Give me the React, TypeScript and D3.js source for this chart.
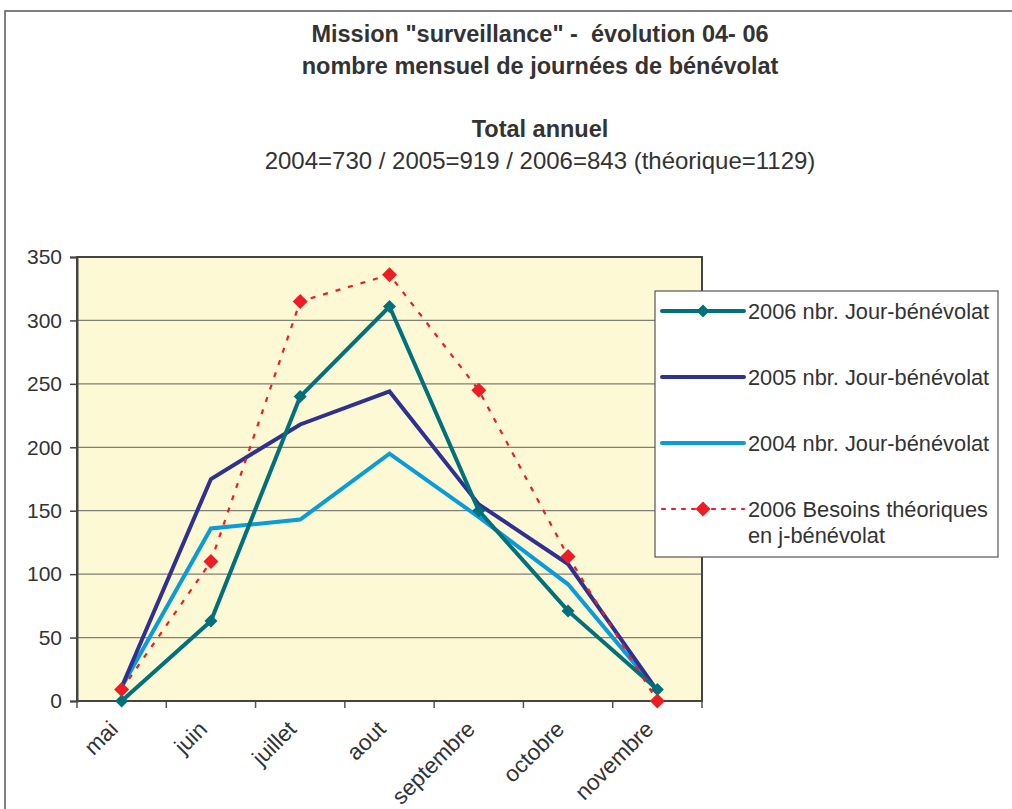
import { useEffect, useRef } from 'react';
import * as d3 from 'd3';

const months = ['mai', 'juin', 'juillet', 'aout', 'septembre', 'octobre', 'novembre'];
const serie2006 = [0, 63, 240, 311, 150, 71, 9];
const serie2005 = [11, 175, 218, 244, 155, 108, 8];
const serie2004 = [11, 136, 143, 195, 145, 92, 8];
const besoins2006 = [9, 110, 315, 336, 245, 114, 0];
const yTicks = [0, 50, 100, 150, 200, 250, 300, 350];

const W = 1012, H = 809;
const L = 77, R = 702, T = 257, B = 701;
const FONT = '"Liberation Sans", Arial, sans-serif';

const series = [
  { name: '2006 nbr. Jour-bénévolat', values: serie2006, color: '#00707A', marker: 6.5, dash: null },
  { name: '2005 nbr. Jour-bénévolat', values: serie2005, color: '#2E3192', marker: 0, dash: null },
  { name: '2004 nbr. Jour-bénévolat', values: serie2004, color: '#0A9BDA', marker: 0, dash: null },
  { name: '2006 Besoins théoriques|en j-bénévolat', values: besoins2006, color: '#EE1C25', marker: 7.5, dash: '5,8' },
];

function diamond(r: number) {
  return `M0,${-r}L${r},0L0,${r}L${-r},0Z`;
}

export default function App() {
  const ref = useRef<SVGSVGElement>(null);

  useEffect(() => {
    const svg = d3.select(ref.current);
    svg.selectAll('*').remove();

    // outer frame
    svg.append('path').attr('d', `M5,${H}V11H${W}`).attr('fill', 'none').attr('stroke', '#555').attr('stroke-width', 1.5);

    // titles
    const titles = [
      { t: 'Mission "surveillance" -  évolution 04- 06', y: 42, b: true },
      { t: 'nombre mensuel de journées de bénévolat', y: 74, b: true },
      { t: 'Total annuel', y: 137, b: true },
      { t: '2004=730 / 2005=919 / 2006=843 (théorique=1129)', y: 169, b: false },
    ];
    titles.forEach((d) => {
      svg.append('text')
        .attr('x', 540).attr('y', d.y)
        .attr('text-anchor', 'middle')
        .attr('font-family', FONT)
        .attr('font-size', d.b ? 23.5 : 24)
        .attr('font-weight', d.b ? 'bold' : 'normal')
        .attr('fill', '#333')
        .attr('style', 'white-space: pre')
        .text(d.t);
    });

    const x = d3.scaleBand().domain(months).range([L, R]);
    const y = d3.scaleLinear().domain([0, 350]).range([B, T]);

    // plot area
    svg.append('rect').attr('x', L).attr('y', T).attr('width', R - L).attr('height', B - T).attr('fill', '#FEF9D5');

    // gridlines
    svg.append('g').selectAll('line').data(yTicks.slice(1, -1)).join('line')
      .attr('x1', L).attr('x2', R).attr('y1', (d) => y(d)).attr('y2', (d) => y(d))
      .attr('stroke', '#7f7f75').attr('stroke-width', 1.2);

    // border
    svg.append('rect').attr('x', L).attr('y', T).attr('width', R - L).attr('height', B - T)
      .attr('fill', 'none').attr('stroke', '#444').attr('stroke-width', 2);

    // y axis
    const yAxis = svg.append('g').attr('transform', `translate(${L},0)`)
      .call(d3.axisLeft(y).tickValues(yTicks).tickSize(7).tickPadding(8));
    yAxis.select('.domain').attr('stroke', '#444').attr('stroke-width', 2);
    yAxis.selectAll('.tick line').attr('stroke', '#444').attr('stroke-width', 1.5);
    yAxis.selectAll('text').attr('font-family', FONT).attr('font-size', 21).attr('fill', '#333');

    // x axis
    const xg = svg.append('g').attr('transform', `translate(0,${B})`);
    const edges = months.map((m) => x(m)!).concat([R]);
    xg.selectAll('line').data(edges).join('line')
      .attr('x1', (d) => d).attr('x2', (d) => d).attr('y1', 0).attr('y2', 7)
      .attr('stroke', '#555').attr('stroke-width', 1.5);
    xg.append('line').attr('x1', L).attr('x2', R).attr('stroke', '#444').attr('stroke-width', 2);
    xg.selectAll('text').data(months).join('text')
      .attr('transform', (d) => `translate(${x(d)! + x.bandwidth() / 2 - 8},${24}) rotate(-45)`)
      .attr('text-anchor', 'end')
      .attr('dy', '0.35em')
      .attr('font-family', FONT).attr('font-size', 22.5).attr('fill', '#333')
      .text((d) => d);

    const cx = (i: number) => x(months[i])! + x.bandwidth() / 2;
    const line = d3.line<number>().x((_, i) => cx(i)).y((d) => y(d));

    // draw order: 2004, 2005, 2006, besoins on top
    const order = [2, 1, 0, 3];
    order.forEach((k) => {
      const s = series[k];
      svg.append('path').datum(s.values)
        .attr('d', line)
        .attr('fill', 'none')
        .attr('stroke', s.color)
        .attr('stroke-width', s.dash ? 2.2 : 4)
        .attr('stroke-dasharray', s.dash)
        .attr('stroke-linejoin', 'miter');
      if (s.marker) {
        svg.append('g').selectAll('path').data(s.values).join('path')
          .attr('transform', (d, i) => `translate(${cx(i)},${y(d)})`)
          .attr('d', diamond(s.marker))
          .attr('fill', s.color);
      }
    });

    // legend
    const lg = svg.append('g');
    lg.append('rect').attr('x', 655).attr('y', 291).attr('width', 343).attr('height', 266)
      .attr('fill', '#fff').attr('stroke', '#555').attr('stroke-width', 1.2);
    const ly = [311, 377, 443, 509];
    series.forEach((s, i) => {
      lg.append('line').attr('x1', 662).attr('x2', 744).attr('y1', ly[i]).attr('y2', ly[i])
        .attr('stroke', s.color).attr('stroke-width', s.dash ? 2.2 : 4)
        .attr('stroke-linecap', 'round')
        .attr('stroke-dasharray', s.dash ? '3,7' : null);
      if (s.marker) {
        lg.append('path').attr('transform', `translate(703,${ly[i]})`).attr('d', diamond(s.marker)).attr('fill', s.color);
      }
      s.name.split('|').forEach((t, j) => {
        lg.append('text').attr('x', 748).attr('y', ly[i] + j * 26).attr('dy', '0.35em')
          .attr('font-family', FONT).attr('font-size', 21.8).attr('fill', '#333').text(t);
      });
    });
  }, []);

  return <svg ref={ref} width={W} height={H} style={{ position: 'absolute', left: 0, top: 0 }} />;
}
